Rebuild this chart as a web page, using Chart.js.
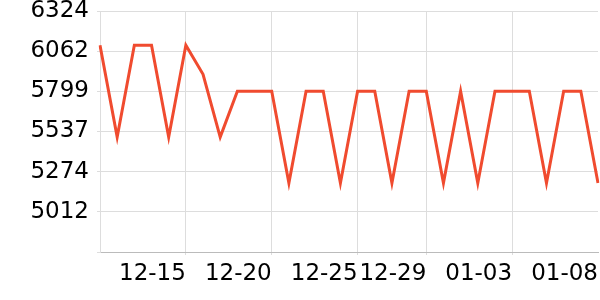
<!doctype html>
<html>
<head>
    <meta charset="UTF-8"/>
    <title>Chart</title>
    <style type="text/css">
        html, body { margin: 0; padding: 0; background: #fff; }
        .chartBox { width: 600px; height: 300px; }
    </style>
</head>
<body>
    <div class="chartBox">
        <canvas id="myChart"></canvas>
    </div>

    <script src="https://cdn.jsdelivr.net/npm/chart.js"></script>

    <script>
        const dates = [
            '12-10', '12-11', '12-12', '12-13', '12-14', '12-15', '12-16', '12-17', '12-18', '12-19',
            '12-20', '12-21', '12-22', '12-23', '12-24', '12-25', '12-26', '12-27', '12-28', '12-29',
            '12-30', '12-31', '01-01', '01-02', '01-03', '01-04', '01-05', '01-06', '01-07', '01-08'
        ];
        const values = [
            6100, 5500, 6100, 6100, 5500, 6100, 5910, 5500, 5800, 5800,
            5800, 5200, 5800, 5800, 5200, 5800, 5800, 5200, 5800, 5800,
            5200, 5800, 5200, 5800, 5800, 5800, 5200, 5800, 5800, 5200
        ];
        const shownDates = ['12-15', '12-20', '12-25', '12-29', '01-03', '01-08'];
        const yTicks = [4749, 5012, 5274, 5537, 5799, 6062, 6324];

        const tickFont = { family: 'DejaVu Sans', size: 23 };

        const config = {
            type: 'line',
            data: {
                labels: dates,
                datasets: [{
                    data: values,
                    borderColor: '#f04b2f',
                    borderWidth: 3,
                    pointRadius: 0,
                    tension: 0,
                    fill: false
                }]
            },
            options: {
                responsive: true,
                maintainAspectRatio: false,
                animation: false,
                layout: { padding: { right: 2 } },
                plugins: {
                    legend: { display: false },
                    tooltip: { enabled: false }
                },
                scales: {
                    x: {
                        grid: {
                            color: ctx => (ctx.tick && ctx.tick.label && ctx.index < dates.length - 1) ? '#dddddd' : 'rgba(0,0,0,0)',
                            tickLength: 3
                        },
                        border: { color: '#bbbbbb' },
                        ticks: {
                            autoSkip: false,
                            maxRotation: 0,
                            minRotation: 0,
                            align: 'end',
                            padding: 5,
                            color: '#000',
                            font: tickFont,
                            callback: function(value, index) {
                                const d = dates[index];
                                return shownDates.includes(d) ? d : '';
                            }
                        },
                        afterFit: scale => {
                            scale.height = 48;
                            scale.paddingLeft = 0;
                            scale.paddingRight = 0;
                        }
                    },
                    y: {
                        min: yTicks[0],
                        max: yTicks[yTicks.length - 1],
                        grid: { color: '#dddddd', tickLength: 3 },
                        border: { color: '#dddddd' },
                        ticks: {
                            padding: 8,
                            color: '#000',
                            font: tickFont,
                            callback: value => value === yTicks[0] ? '' : String(value)
                        },
                        afterBuildTicks: scale => {
                            scale.ticks = yTicks.map(v => ({ value: v }));
                        },
                        afterFit: scale => {
                            scale.width = 100;
                            scale.paddingTop = 11;
                            scale.paddingBottom = 0;
                        }
                    }
                }
            }
        };

        const myChart = new Chart(document.getElementById('myChart'), config);
    </script>
</body>
</html>
